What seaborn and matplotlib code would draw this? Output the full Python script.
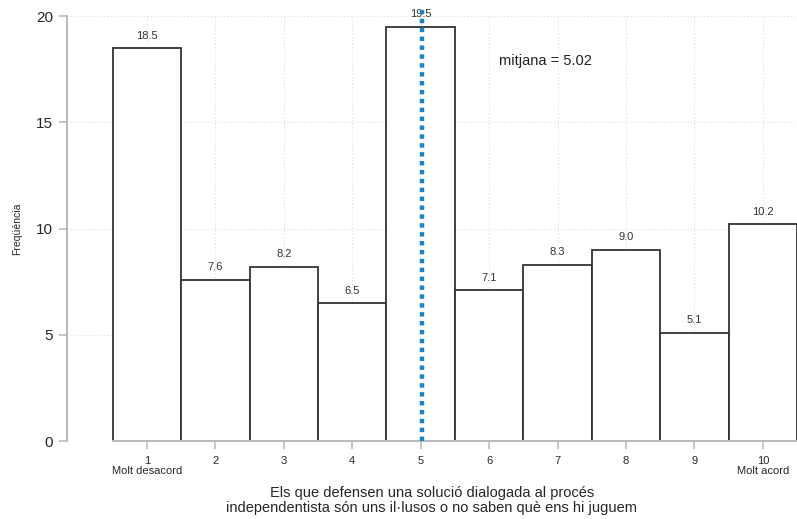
import seaborn as sns
import pandas as pd
import matplotlib.pyplot as plt

punts = [1, 2, 3, 4, 5, 6, 7, 8, 9, 10]
freq = [18.5, 7.6, 8.2, 6.5, 19.5, 7.1, 8.3, 9.0, 5.1, 10.2]
etiquetes = ['1\nMolt desacord', '2', '3', '4', '5', '6', '7', '8', '9', '10\nMolt acord']
mitjana = 5.02

df = pd.DataFrame({'punt': punts, 'freq': freq})

sns.set_style('white')
plt.rcParams['font.family'] = ['Liberation Sans', 'DejaVu Sans']

fig = plt.figure(figsize=(7.97, 5.19), dpi=100)
ax = fig.add_axes([0.084, 0.150, 0.916, 0.819])

ax.grid(True, color='#dddddd', linestyle=(0, (1, 2)), linewidth=0.8)
ax.set_axisbelow(True)

sns.barplot(data=df, x='punt', y='freq', native_scale=True, width=1,
            color='white', edgecolor='#333333', linewidth=1.3, ax=ax, zorder=2)

for p, f in zip(punts, freq):
    ax.text(p, f + 0.35, f'{f:.1f}', ha='center', va='bottom', fontsize=8, color='#333333')

ax.plot([mitjana, mitjana], [0, 20.4], color='#1985c5', linestyle=(0, (1, 1)),
        linewidth=3.2, zorder=3, clip_on=False)
ax.text(6.15, 17.9, f'mitjana = {mitjana:.2f}', fontsize=10.5, color='#222222', va='center')

ax.set_xlim(-0.17, 10.5)
ax.set_ylim(0, 20)
ax.set_xticks(punts)
ax.set_xticklabels(etiquetes, fontsize=8, linespacing=1.0)
ax.set_yticks([0, 5, 10, 15, 20])
ax.tick_params(axis='y', left=True, labelsize=11, length=6, width=1.2, color='#bbbbbb', pad=4)
ax.tick_params(axis='x', bottom=True, length=6, width=1.2, color='#bbbbbb', pad=5)

for s in ['top', 'right']:
    ax.spines[s].set_visible(False)
ax.spines['left'].set_color('#bbbbbb')
ax.spines['left'].set_linewidth(1.5)
ax.spines['bottom'].set_color('#bbbbbb')
ax.spines['bottom'].set_linewidth(1.5)
ax.spines['bottom'].set_bounds(0.5, 10.5)

ax.set_ylabel('Freqüència', fontsize=7.5, labelpad=10)
ax.set_xlabel('Els que defensen una solució dialogada al procés\nindependentista són uns il·lusos o no saben què ens hi juguem',
              fontsize=10.5, labelpad=7, linespacing=1.05)

fig.savefig('out.png', dpi=100)
